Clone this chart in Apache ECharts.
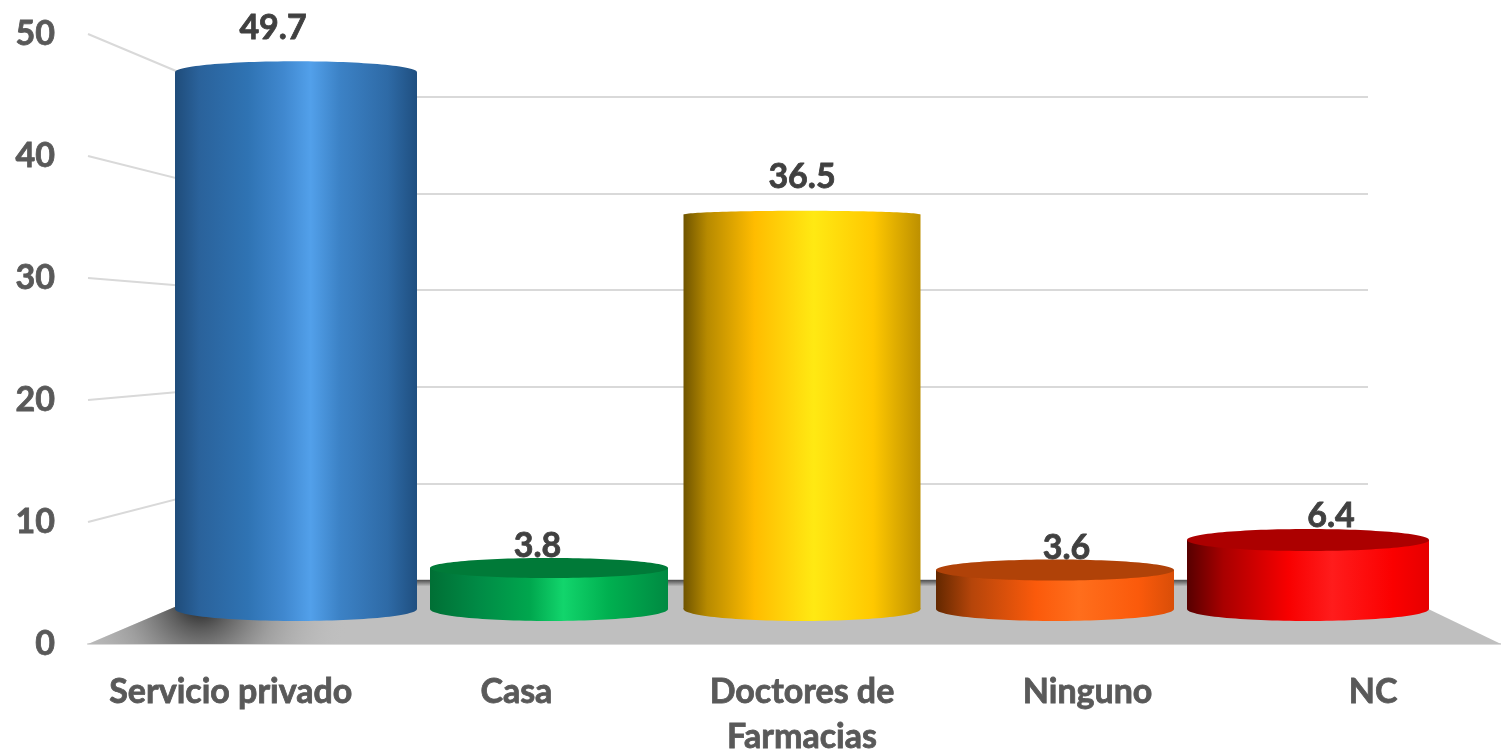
<!DOCTYPE html>
<html>
<head>
<meta charset="utf-8">
<style>html,body{margin:0;padding:0;background:#fff}#chart{width:1501px;height:751px}</style>
<script src="https://cdn.jsdelivr.net/npm/echarts@6/dist/echarts.min.js"></script>
</head>
<body>
<div id="chart"></div>
<script>
const categories = ['Servicio privado', 'Casa', 'Doctores de\nFarmacias', 'Ninguno', 'NC']
const values = [49.7, 3.8, 36.5, 3.6, 6.4]
const yTicks = [10, 20, 30, 40, 50]

// cylinder look, one entry per category
const bodyWidths = [242, 238, 237, 238, 242]
const capHeights = [11, 10, 4, 10.5, 11]
const bodyStops = [
  [[0, '#1f4c7a'], [0.1, '#2a629b'], [0.3, '#2f73b3'], [0.45, '#4088cf'], [0.56, '#52a0ea'], [0.68, '#3c82c6'], [0.88, '#2e6aa6'], [1, '#1f4f80']],
  [[0, '#006f35'], [0.2, '#008a45'], [0.42, '#00a74e'], [0.56, '#12d56c'], [0.75, '#00b050'], [1, '#008a42']],
  [[0, '#6f5400'], [0.1, '#b78a00'], [0.3, '#ffbc00'], [0.55, '#ffe913'], [0.8, '#ffc800'], [1, '#bd9000']],
  [[0, '#632800'], [0.15, '#b5450a'], [0.42, '#fb5a0b'], [0.6, '#ff6e1c'], [0.85, '#fb5a0b'], [1, '#d94e08']],
  [[0, '#560000'], [0.15, '#a80000'], [0.42, '#f80000'], [0.6, '#ff1c1c'], [0.85, '#fb0000'], [1, '#e60000']]
]
const capColors = [null, '#007a38', null, '#b04208', '#ac0000']

const gray = '#d9d9d9'
const font = 'Lato, sans-serif'

const chart = echarts.init(document.getElementById('chart'))

function horizontal(stops) {
  return {
    type: 'linear', x: 0, y: 0, x2: 1, y2: 0,
    colorStops: stops.map(s => ({ offset: s[0], color: s[1] }))
  }
}

// grid that puts value 0 at zeroY and value 50 at topY
function plane(left, right, topY, zeroY) {
  return { left: left, width: right - left, top: topY, height: zeroY - topY, outerBoundsMode: 'none' }
}

function hiddenAxis(type, gridIndex, extra) {
  return Object.assign({ type: type, gridIndex: gridIndex, show: false }, extra)
}

// lato bold is a bit thin next to the original, thicken it with a hairline
function axisText(extra) {
  return Object.assign({
    color: '#595959',
    fontFamily: font,
    fontWeight: 'bold',
    fontSize: 34,
    textBorderColor: '#595959',
    textBorderWidth: 0.8
  }, extra)
}

function renderFloor(params, api) {
  const back = v => chart.convertToPixel({ gridIndex: 1 }, v)
  const backLeft = back([0, 0])
  const backRight = back([1, 0])
  const frontLeft = chart.convertToPixel({ gridIndex: 0 }, [0, 0])
  const points = [backLeft, backRight, [api.getWidth(), frontLeft[1]], [88, frontLeft[1]]]
  return {
    type: 'group',
    children: [{
      type: 'polygon',
      shape: { points: points },
      style: {
        fill: {
          type: 'linear', x: 0, y: 0, x2: 0, y2: 1,
          colorStops: [{ offset: 0, color: '#4f4f4f' }, { offset: 0.1, color: '#bfbfbf' }, { offset: 1, color: '#bfbfbf' }]
        }
      }
    }, {
      type: 'polygon',
      shape: { points: [[88, frontLeft[1]], [backLeft[0], backLeft[1]], [430, backLeft[1]], [430, frontLeft[1]]] },
      style: {
        fill: {
          type: 'radial', x: 200, y: 600, r: 150, global: true,
          colorStops: [
            { offset: 0, color: 'rgba(20,20,20,1)' },
            { offset: 0.2, color: 'rgba(60,60,60,0.75)' },
            { offset: 0.5, color: 'rgba(120,120,120,0.45)' },
            { offset: 1, color: 'rgba(191,191,191,0)' }
          ]
        }
      }
    }]
  }
}

function renderSideLine(params, api) {
  const v = api.value(0)
  const front = chart.convertToPixel({ gridIndex: 0 }, [0, v])
  const back = chart.convertToPixel({ gridIndex: 1 }, [0, v])
  return {
    type: 'line',
    shape: { x1: 88, y1: front[1], x2: back[0], y2: back[1] },
    style: { stroke: gray, lineWidth: 2 }
  }
}

function renderCylinder(params, api) {
  const i = params.dataIndex
  const top = api.coord([i, api.value(1)])
  const base = api.coord([i, 0])
  const rx = bodyWidths[i] / 2
  const fill = horizontal(bodyStops[i])
  return {
    type: 'group',
    children: [{
      type: 'ellipse',
      shape: { cx: base[0], cy: base[1], rx: rx, ry: 12 },
      style: { fill: fill }
    }, {
      type: 'rect',
      shape: { x: base[0] - rx, y: top[1], width: rx * 2, height: base[1] - top[1] },
      style: { fill: fill }
    }, {
      type: 'ellipse',
      shape: { cx: top[0], cy: top[1], rx: rx, ry: capHeights[i] },
      style: { fill: capColors[i] || fill }
    }]
  }
}

function renderValueLabel(params, api) {
  const p = api.coord([params.dataIndex, api.value(1)])
  return {
    type: 'text',
    x: p[0],
    y: p[1],
    style: {
      text: String(api.value(1)),
      textAlign: 'center',
      textVerticalAlign: 'middle',
      fill: '#404040',
      stroke: '#404040',
      lineWidth: 0.8,
      font: 'bold 34px ' + font
    }
  }
}

chart.setOption({
  animation: false,
  backgroundColor: '#fff',
  grid: [
    plane(88, 1516, 34, 644),   // front axis
    plane(238, 1368, 97, 580),  // back wall
    plane(169.5, 1434.5, 69, 609), // cylinders
    plane(140.75, 1463.25, 25, 588.5) // value labels
  ],
  xAxis: [
    {
      type: 'category',
      gridIndex: 0,
      data: categories,
      axisTick: { show: false },
      axisLine: { lineStyle: { color: gray, width: 2 } },
      axisLabel: axisText({ interval: 0, lineHeight: 45, margin: 26 })
    },
    hiddenAxis('value', 1, { min: 0, max: 1 }),
    hiddenAxis('category', 2, { data: categories }),
    hiddenAxis('category', 3, { data: categories })
  ],
  yAxis: [
    {
      type: 'value',
      gridIndex: 0,
      min: 0,
      max: 50,
      interval: 10,
      axisLine: { show: false },
      axisTick: { show: false },
      splitLine: { show: false },
      axisLabel: axisText({ margin: 33 })
    },
    {
      type: 'value',
      gridIndex: 1,
      min: 0,
      max: 50,
      interval: 10,
      axisLine: { show: false },
      axisTick: { show: false },
      axisLabel: { show: false },
      splitLine: { lineStyle: { color: gray, width: 2 } }
    },
    hiddenAxis('value', 2, { min: 0, max: 50 }),
    hiddenAxis('value', 3, { min: 0, max: 50 })
  ],
  series: [
    {
      type: 'custom',
      xAxisIndex: 1,
      yAxisIndex: 1,
      data: [[0, 0]],
      renderItem: renderFloor,
      silent: true,
      z: 1
    },
    {
      type: 'custom',
      xAxisIndex: 0,
      yAxisIndex: 0,
      encode: { x: 1, y: 0 },
      data: yTicks.map(v => [v, 0]),
      renderItem: renderSideLine,
      silent: true,
      z: 1
    },
    {
      type: 'custom',
      xAxisIndex: 2,
      yAxisIndex: 2,
      data: values.map((v, i) => [i, v]),
      encode: { x: 0, y: 1 },
      renderItem: renderCylinder,
      z: 3
    },
    {
      type: 'custom',
      xAxisIndex: 3,
      yAxisIndex: 3,
      data: values.map((v, i) => [i, v]),
      encode: { x: 0, y: 1 },
      renderItem: renderValueLabel,
      z: 4
    }
  ]
})
</script>
</body>
</html>
